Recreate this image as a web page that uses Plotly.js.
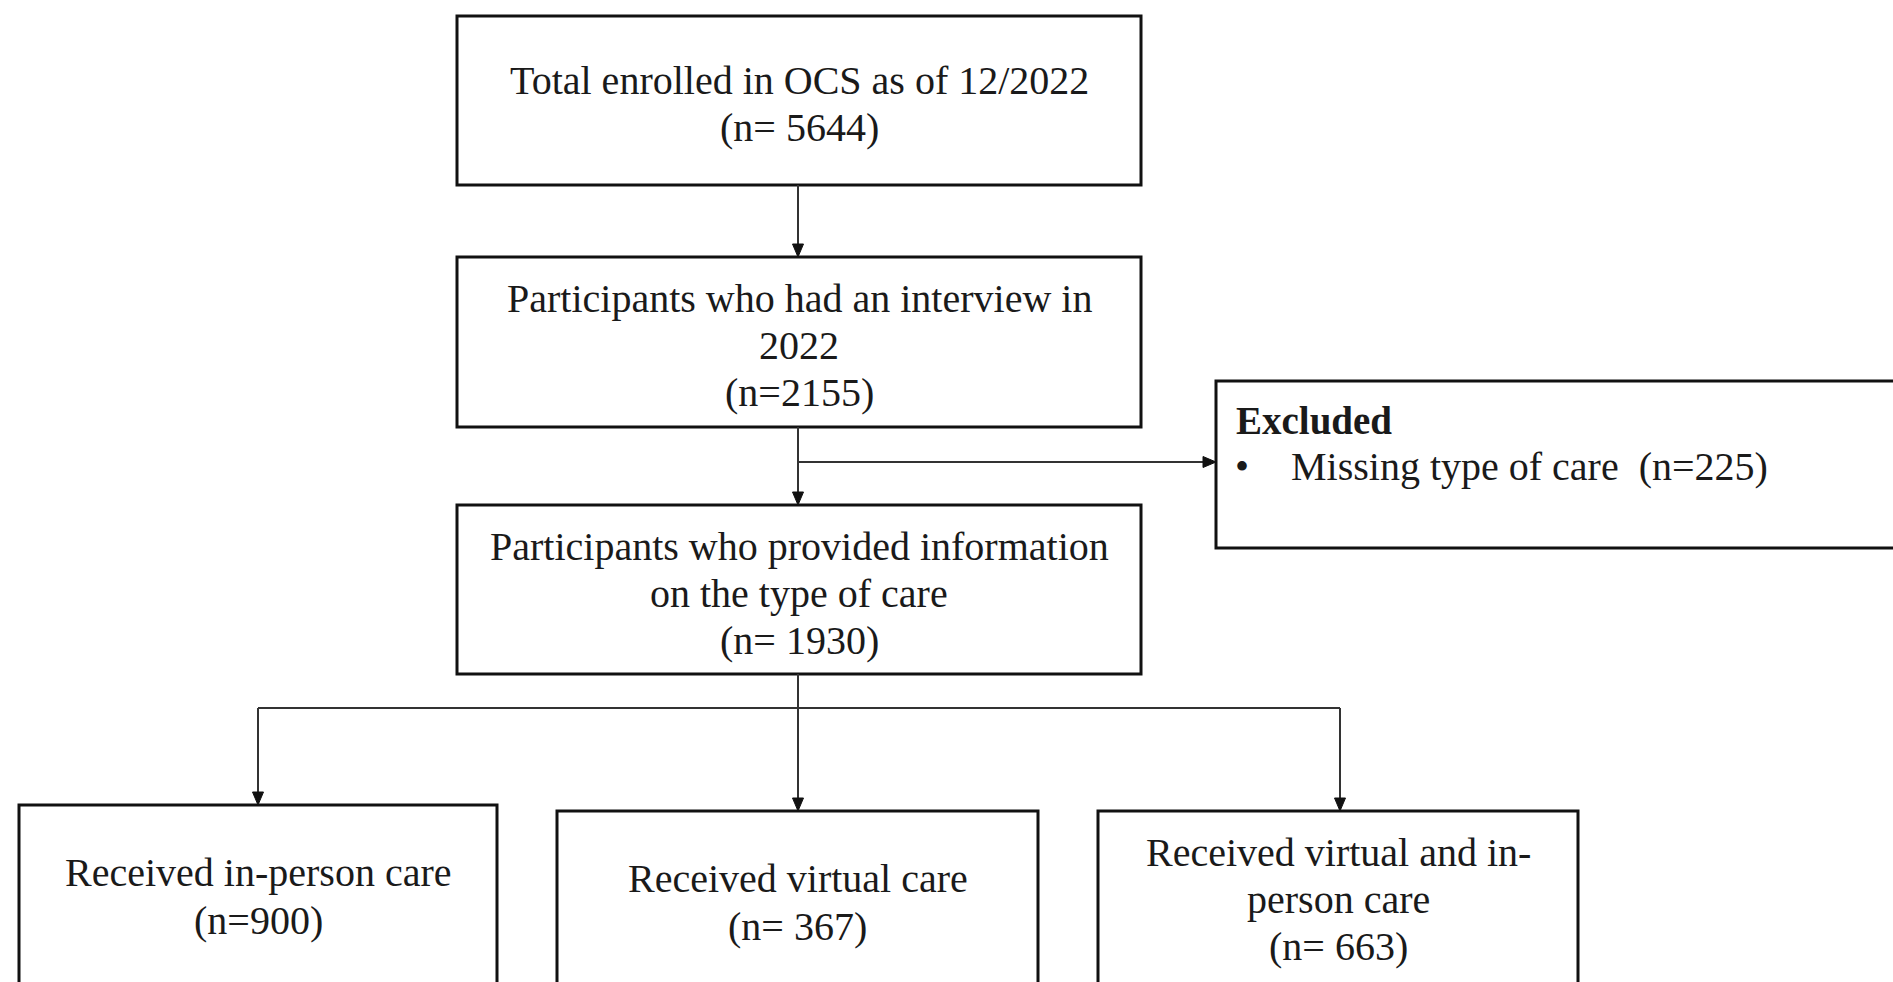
<!DOCTYPE html>
<html>
<head>
<meta charset="utf-8">
<script src="https://cdn.plot.ly/plotly-3.0.1.min.js"></script>
<style>
  html, body { margin: 0; padding: 0; background: #ffffff; }
  #chart { width: 1893px; height: 982px; }
</style>
</head>
<body>
<div id="chart"></div>
<script>
// ---------- DATA ----------
const boxTextLines = [
  ['Total enrolled in OCS as of 12/2022'],
  ['Participants who had an interview in', '2022'],
  ['Participants who provided information', 'on the type of care'],
  ['Received in-person care'],
  ['Received virtual care'],
  ['Received virtual and in-', 'person care']
];
const boxCounts = [5644, 2155, 1930, 900, 367, 663];
const countSpacing = [' ', '', ' ', '', ' ', ' '];
const excludedTitle = 'Excluded';
const excludedReasons = ['Missing type of care'];
const excludedCounts = [225];

// ---------- LAYOUT (pixel geometry of the diagram) ----------
const W = 1893, H = 982;
const geom = [
  {x0: 457, x1: 1141, y0: 16,  y1: 185,  lineY: [80, 127]},
  {x0: 457, x1: 1141, y0: 257, y1: 427,  lineY: [298, 345, 392]},
  {x0: 457, x1: 1141, y0: 505, y1: 674,  lineY: [546, 593, 640]},
  {x0: 19,  x1: 497,  y0: 805, y1: 1010, lineY: [872, 920]},
  {x0: 557, x1: 1038, y0: 811, y1: 1010, lineY: [878, 926]},
  {x0: 1098, x1: 1578, y0: 811, y1: 1010, lineY: [852, 899, 946]}
];
const exclGeom = {x0: 1216, x1: 1960, y0: 381, y1: 548, titleX: 1234, titleY: 420,
                  bulletX: 1233, textX: 1289, itemY: 466};
const spineX = 798, branchY = 462, splitY = 708;

const FONT = 'Liberation Serif, Times New Roman, serif';
const FS = 40;
const TXT = '#1a1a1a';
const BOXLINE = {color: '#111111', width: 3};
const CONN = {color: '#333333', width: 2};

const shapes = [];
const annotations = [];

function cx(g) { return (g.x0 + g.x1) / 2; }

// boxes + text
geom.forEach((g, i) => {
  shapes.push({type: 'rect', xref: 'x', yref: 'y', x0: g.x0, x1: g.x1, y0: g.y0, y1: g.y1,
               line: BOXLINE, fillcolor: 'rgba(0,0,0,0)'});
  const lines = boxTextLines[i].concat(['(n=' + countSpacing[i] + boxCounts[i] + ')']);
  lines.forEach((t, k) => {
    annotations.push({x: cx(g), y: g.lineY[k], xref: 'x', yref: 'y', text: t, showarrow: false,
                      xanchor: 'center', yanchor: 'middle',
                      font: {family: FONT, size: FS, color: TXT}});
  });
});

// excluded box
shapes.push({type: 'rect', xref: 'x', yref: 'y', x0: exclGeom.x0, x1: exclGeom.x1,
             y0: exclGeom.y0, y1: exclGeom.y1, line: BOXLINE, fillcolor: 'rgba(0,0,0,0)'});
annotations.push({x: exclGeom.titleX, y: exclGeom.titleY, xref: 'x', yref: 'y',
                  text: '<b>' + excludedTitle + '</b>', showarrow: false, xanchor: 'left', yanchor: 'middle',
                  font: {family: FONT, size: FS - 1, color: TXT}});
excludedReasons.forEach((r, k) => {
  annotations.push({x: exclGeom.bulletX, y: exclGeom.itemY, xref: 'x', yref: 'y', text: '•',
                    showarrow: false, xanchor: 'left', yanchor: 'middle',
                    font: {family: FONT, size: FS, color: TXT}});
  annotations.push({x: exclGeom.textX, y: exclGeom.itemY, xref: 'x', yref: 'y',
                    text: r + '&nbsp;&nbsp;(n=' + excludedCounts[k] + ')', showarrow: false,
                    xanchor: 'left', yanchor: 'middle',
                    font: {family: FONT, size: FS, color: TXT}});
});

// connectors
function line(x0, y0, x1, y1) {
  shapes.push({type: 'line', xref: 'x', yref: 'y', x0, y0, x1, y1, line: CONN});
}
function arrow(x0, y0, x1, y1) {
  const L = 13, hw = 5.5;
  const dx = x1 - x0, dy = y1 - y0, len = Math.hypot(dx, dy);
  const ux = dx / len, uy = dy / len;
  const bx = x1 - ux * L, by = y1 - uy * L;
  line(x0, y0, bx, by);
  const px = -uy * hw, py = ux * hw;
  shapes.push({type: 'path', xref: 'x', yref: 'y',
               path: 'M' + x1 + ',' + y1 + ' L' + (bx + px) + ',' + (by + py) + ' L' + (bx - px) + ',' + (by - py) + ' Z',
               fillcolor: '#111111', line: {color: '#111111', width: 1}});
}

arrow(spineX, geom[0].y1, spineX, geom[1].y0);
arrow(spineX, geom[1].y1, spineX, geom[2].y0);
arrow(spineX, branchY, exclGeom.x0, branchY);
const leftX = cx(geom[3]), rightX = 1340;
line(leftX, splitY, rightX, splitY);
arrow(spineX, geom[2].y1, spineX, geom[4].y0);
arrow(leftX, splitY, leftX, geom[3].y0);
arrow(rightX, splitY, rightX, geom[5].y0);

const layout = {
  width: W, height: H,
  margin: {l: 0, r: 0, t: 0, b: 0},
  paper_bgcolor: '#ffffff', plot_bgcolor: '#ffffff',
  xaxis: {range: [0, W], visible: false, fixedrange: true},
  yaxis: {range: [H, 0], visible: false, fixedrange: true},
  showlegend: false,
  shapes, annotations
};

Plotly.newPlot('chart', [], layout, {displayModeBar: false, staticPlot: true});
</script>
</body>
</html>
